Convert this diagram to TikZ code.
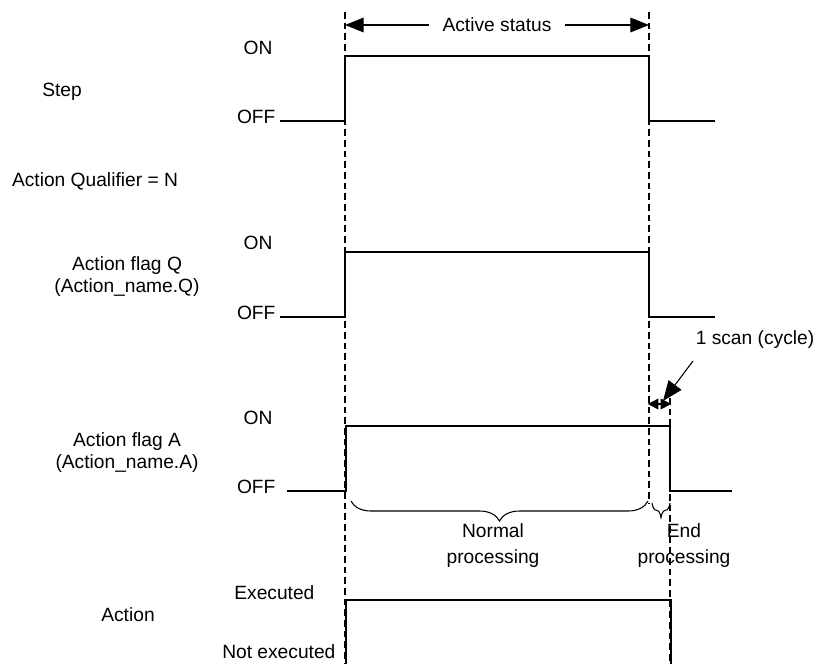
\documentclass[tikz,border=0pt]{standalone}
\usepackage{fontspec}
\setmainfont{Liberation Sans}
\usetikzlibrary{arrows.meta, positioning, calc, decorations.pathreplacing}

\begin{document}
\begin{tikzpicture}[x=0.75pt, y=-0.75pt,
    lbl/.style={font=\fontsize{14.4}{16.5}\selectfont, inner sep=1pt, align=center},
    wave/.style={line width=1pt},
    guide/.style={line width=0.8pt, dash pattern=on 5pt off 3pt},
    arr/.style={{Triangle[length=14pt,width=11pt]}-{Triangle[length=14pt,width=11pt]}, line width=0.8pt},
    tick/.style={{Triangle[length=8pt,width=8pt]}-{Triangle[length=8pt,width=8pt]}, line width=0.8pt, shorten <=-1pt, shorten >=-1pt},
    ptr/.style={-{Triangle[length=15pt,width=12pt]}, line width=0.8pt},
    brc/.style={decorate, decoration={brace, mirror, amplitude=#1}, line width=0.8pt},
]
\useasboundingbox (0,0) rectangle (816,664);

% row labels
\node[lbl] (step) at (62,92) {Step};
\node[lbl] (qual) at (95,181) {Action Qualifier = N};
\node[lbl] (flagq) at (127,277) {Action flag Q\\(Action\_name.Q)};
\node[lbl] (flaga) at (127,453) {Action flag A\\(Action\_name.A)};
\node[lbl] (act) at (128,615) {Action};

% level labels
\node[lbl] (stepon) at (258,48) {ON};
\node[lbl, anchor=east] (stepoff) at (277,117) {OFF};
\node[lbl] (qon) at (258,243) {ON};
\node[lbl, anchor=east] (qoff) at (277,313) {OFF};
\node[lbl] (aon) at (258,418) {ON};
\node[lbl, anchor=east] (aoff) at (277,487) {OFF};
\node[lbl, anchor=east] (exec) at (316,593) {Executed};
\node[lbl, anchor=east] (noexec) at (337,652) {Not executed};

% time marks
\draw[guide] (345,12) -- (345,664);
\draw[guide] (649,12) -- (649,503);
\draw[guide] (670,398) -- (670,664);

% active status
\coordinate (as1) at (345,25);
\coordinate (as2) at (649,25);
\draw[arr] (as1) -- node[lbl, fill=white, inner xsep=10pt] (active) {Active status} (as2);

% waveforms
\draw[wave] (280,121) -- (345,121) -- (345,56) -- (649,56) -- (649,121) -- (715,121);
\draw[wave] (280,317) -- (345,317) -- (345,252) -- (649,252) -- (649,317) -- (715,317);
\draw[wave] (287,491) -- (346,491) -- (346,426) -- (670,426) -- (670,491) -- (732,491);
\draw[wave] (346,664) -- (346,600) -- (671,600) -- (671,664);

% one scan
\node[lbl] (scan) at (755,340) {1 scan (cycle)};
\coordinate (sc1) at (649,404);
\coordinate (sc2) at (670,404);
\draw[tick] (sc1) -- (sc2);
\coordinate (p) at (693,361);
\draw[ptr] (p) -- (663,401);

% processing
\draw[brc=15pt] (351,501) -- (648,501);
\draw[brc=11pt] (652,503) -- (670,503);
\node[lbl, font=\fontsize{14.4}{19.5}\selectfont] (normal) at (493,546) {Normal\\processing};
\node[lbl, font=\fontsize{14.4}{19.5}\selectfont] (endp) at (684,546) {End\\processing};
\end{tikzpicture}
\end{document}
